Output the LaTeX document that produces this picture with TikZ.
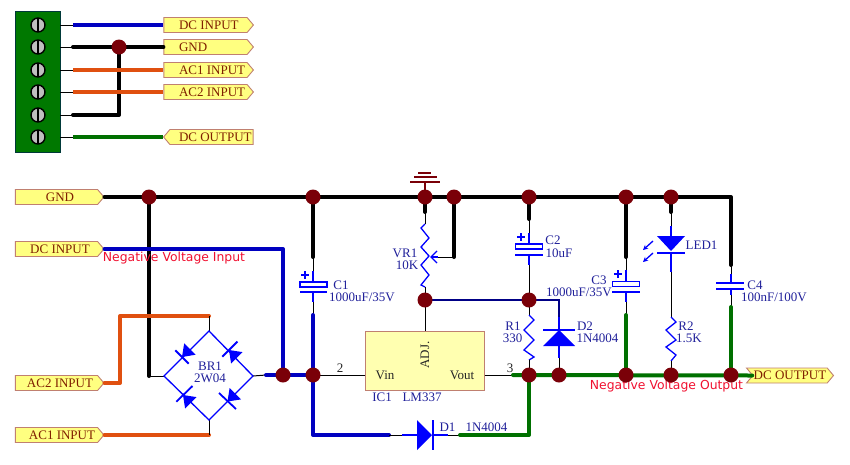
\documentclass[tikz,border=0pt]{standalone}
\usepackage{fontspec}
\setmainfont{Liberation Serif}
\newfontfamily\redfont{DejaVu Sans}
\usetikzlibrary{shapes.symbols,calc,arrows.meta}
\newcommand{\shiftedtext}[2]{\makebox[0pt]{\hspace{#1}#2}}
\definecolor{junc}{HTML}{7A0008}
\definecolor{wblue}{HTML}{0000C0}
\definecolor{cblue}{HTML}{0000FF}
\definecolor{wgreen}{HTML}{007000}
\definecolor{worange}{HTML}{E05010}
\definecolor{pfill}{HTML}{FFFF80}
\definecolor{pdraw}{HTML}{C08070}
\definecolor{ptext}{HTML}{802000}
\definecolor{ictext}{HTML}{20209A}
\definecolor{icfill}{HTML}{FFFFB0}
\definecolor{blockg}{HTML}{007800}
\definecolor{notered}{HTML}{F01030}
\tikzset{
 x=1pt,y=-1pt,
 portr/.style={signal,signal to=east,signal pointer angle=100,draw=pdraw,fill=pfill,line width=.9pt,text=ptext,inner sep=0pt,minimum height=15pt,font=\fontsize{13}{13}\selectfont},
 portl/.style={portr,signal to=west},
 portb/.style={portr,signal to=east,signal from=west},
 wthick/.style={line width=4pt,line cap=round,line join=round},
 kwire/.style={wthick,draw=black},
 bwire/.style={wthick,draw=wblue},
 gwire/.style={wthick,draw=wgreen},
 owire/.style={wthick,draw=worange},
 fine/.style={line width=1pt,draw=black},
 comp/.style={line width=1.3pt,draw=cblue},
 plate/.style={line width=1.8pt,draw=cblue},
 navy/.style={line width=1.2pt,draw=wblue!70!black},
 junction/.style={circle,fill=junc,minimum size=15pt,inner sep=0pt},
 screw/.style={circle,draw=black,line width=1.4pt,fill=black!25,minimum size=14pt,inner sep=0pt,path picture={\fill[black] ($(path picture bounding box.center)+(-1.2,-8)$) rectangle ($(path picture bounding box.center)+(1.2,8)$);}},
 desig/.style={text=ictext,inner sep=0pt,font=\fontsize{13}{13}\selectfont},
 ictxt/.style={text=black!85,inner sep=0pt,font=\fontsize{13}{13}\selectfont},
 redtxt/.style={text=notered,inner sep=0pt,font=\redfont\fontsize{12.4}{13}\selectfont},
 gndsym/.style={line width=1.2pt,draw=junc},
}
\begin{document}
\begin{tikzpicture}
\useasboundingbox (0,0) rectangle (850,464);
% ---------- terminal block
\node[draw=black!55!teal,line width=1pt,fill=blockg,minimum width=45pt,minimum height=141pt,inner sep=0pt] (block) at (37.5,81.5) {};
\foreach \n/\y in {1/25,2/47,3/70,4/92,5/115,6/137}{
 \node[screw] (s\n) at (38,\y) {};
 \coordinate (pa\n) at (60,\y);
 \coordinate (pb\n) at (73,\y);
 \draw[fine] (pa\n) -- (pb\n);
}
\node[portr,minimum width=89.5pt] (tdc) at (205.5,25) {\makebox[53pt][l]{DC INPUT}};
\node[portr,minimum width=89.5pt] (tgnd) at (205.5,47) {\makebox[53pt][l]{GND}};
\node[portr,minimum width=89.5pt] (tac1) at (205.5,70) {\makebox[53pt][l]{AC1 INPUT}};
\node[portr,minimum width=89.5pt] (tac2) at (205.5,92) {\makebox[53pt][l]{AC2 INPUT}};
\node[portl,minimum width=89.5pt] (tout) at (211.5,137) {\makebox[65pt][l]{DC OUTPUT}};
\coordinate (tj) at (119,47);
\coordinate (tc) at (119,115);
\draw[bwire,line cap=butt] (pb1) -- (tdc.west);
\draw[kwire] (pb2) -- (tj) -- (tgnd.west);
\draw[kwire] (pb5) -- (tc) -- (tj);
\draw[owire,line cap=butt] (pb3) -- (tac1.west);
\draw[owire,line cap=butt] (pb4) -- (tac2.west);
\draw[gwire,line cap=butt] (pb6) -- (tout.west);
\node[junction] (tjn) at (tj) {};
% ---------- ports of the circuit
\node[portr,minimum width=88.5pt] (gnd) at (56.5,197) {\shiftedtext{7pt}{GND}};
\node[portr,minimum width=88.5pt] (dci) at (56.5,249) {\shiftedtext{7pt}{DC INPUT}};
\node[portr,minimum width=88.5pt] (ac2) at (56.5,383) {\shiftedtext{7pt}{AC2 INPUT}};
\node[portr,minimum width=88.5pt] (ac1) at (56.5,435) {\shiftedtext{11pt}{AC1 INPUT}};
\node[portb,minimum width=87pt] (dco) at (790,375.5) {DC OUTPUT};
% ---------- coordinates
\coordinate (j1) at (149,197);
\coordinate (j2) at (313,197);
\coordinate (j3) at (425,197);
\coordinate (j4) at (454,197);
\coordinate (j5) at (529,197);
\coordinate (j6) at (626,197);
\coordinate (j7) at (671,197);
\coordinate (cr) at (731,197);
\coordinate (jv) at (425,300);
\coordinate (jc) at (529,300);
\coordinate (d2t) at (559,300);
\coordinate (ja) at (283,375);
\coordinate (jb) at (313,375);
\coordinate (jo1) at (529,375);
\coordinate (jo2) at (559,375);
\coordinate (jo3) at (626,375);
\coordinate (jo4) at (671,375);
\coordinate (jo5) at (731,375);
\coordinate (brl) at (164,376);
\coordinate (brt) at (209,331);
\coordinate (brr) at (253,376);
\coordinate (brb) at (209,420);
% ---------- main rails
\draw[kwire] (gnd.east) -- (cr) -- (731,265);
\draw[kwire] (j1) -- (149,376);
\draw[fine] (149,376) -- (brl);
\draw[bwire] (dci.east) -- (283,249) -- (ja);
\draw[owire] (ac2.east) -- (120,383) -- (120,316) -- (209,316);
\draw[fine] (209,316) -- (brt);
\draw[owire] (ac1.east) -- (209,435);
\draw[fine] (209,435) -- (brb);
\draw[fine] (brr) -- (266,375);
\draw[bwire] (266,375) -- (jb);
% ---------- bridge
\draw[comp] (brl) -- (brt) -- (brr) -- (brb) -- cycle;
\fill[cblue] (182,357) -- (195.7,354.7) -- (184.2,343.3) -- cycle;
\draw[plate] (175.3,350.3) -- (188.7,363.7);
\fill[cblue] (229,350) -- (242.5,352.1) -- (231.1,363.5) -- cycle;
\draw[plate] (222.3,356.7) -- (237.5,341.5);
\fill[cblue] (183,395) -- (196.5,397.1) -- (185.1,408.5) -- cycle;
\draw[plate] (176.3,401.7) -- (192.5,386);
\fill[cblue] (227.5,401.5) -- (241,399.4) -- (229.6,388) -- cycle;
\draw[plate] (219,393) -- (236,409);
\node[desig] (brn) at (210,366) {BR1};
\node[desig] (brv) at (210,378) {2W04};
% ---------- C1
\draw[kwire] (j2) -- (313,257);
\draw[fine] (313,257) -- (313,271);
\draw[comp] (313,271) -- (313,282);
\draw[comp] (313,292) -- (313,302);
\draw[fine] (313,302) -- (313,315);
\draw[bwire] (313,315) -- (313,435) -- (389,435);
\node[draw=cblue,line width=1.2pt,minimum width=27pt,minimum height=5pt,inner sep=0pt] (c1) at (313.5,284.5) {};
\draw[plate] (300,292) -- (327,292);
\draw[line width=1.2pt,draw=cblue] (301,275) -- (309,275) (305,271) -- (305,279);
\node[desig] (c1a) at (341,285) {C1};
\node[desig] (c1b) at (362,297) {1000uF/35V};
% ---------- ground
\draw[gndsym] (j3) -- (425,182);
\draw[gndsym] (410,182) -- (440,182) (414,177) -- (437,177) (418,173) -- (431,173);
% ---------- VR1
\draw[kwire] (j3) -- (425,212);
\draw[fine] (425,212) -- (425,224);
\draw[comp] (425,224) -- (421,228) -- (429,238) -- (421,247) -- (429,256) -- (421,265) -- (429,275) -- (421,285) -- (425,287);
\draw[fine] (425,287) -- (jv);
\draw[kwire] (j4) -- (454,257);
\draw[fine] (454,257) -- (438,257);
\draw[comp] (438,257) -- (431,257);
\draw[comp] (437,251) -- (431,257) -- (437,263);
\node[desig] (vra) at (405,253) {VR1};
\node[desig] (vrb) at (407,265) {10K};
\draw[fine] (jv) -- (425,331);
\draw[navy] (jv) -- (jc) -- (d2t) -- (559,317);
% ---------- C2
\draw[kwire] (j5) -- (529,219);
\draw[fine] (529,219) -- (529,233);
\draw[comp] (529,233) -- (529,244);
\draw[comp] (529,255) -- (529,265);
\draw[fine] (529,265) -- (jc);
\node[draw=cblue,line width=1.2pt,minimum width=27pt,minimum height=5pt,inner sep=0pt] (c2) at (529,246.5) {};
\draw[plate] (515,255) -- (543,255);
\draw[line width=1.2pt,draw=cblue] (517,237) -- (525,237) (521,233) -- (521,241);
\node[desig] (c2a) at (553,240) {C2};
\node[desig] (c2b) at (559,253) {10uF};
% ---------- R1
\draw[fine] (jc) -- (529,315);
\draw[comp] (529,315) -- (534,320) -- (524,330) -- (534,340) -- (524,350) -- (534,357) -- (529,360);
\draw[fine] (529,360) -- (jo1);
\node[desig] (r1a) at (513,326) {R1};
\node[desig] (r1b) at (512.5,338) {330};
% ---------- D2
\draw[comp] (559,317) -- (559,330);
\fill[cblue] (559,330) -- (575,346) -- (543,346) -- cycle;
\draw[plate] (543,330) -- (575,330);
\draw[comp] (559,346) -- (559,358);
\draw[fine] (559,358) -- (jo2);
\node[desig] (d2a) at (585,326) {D2};
\node[desig] (d2b) at (597.5,338) {1N4004};
% ---------- C3
\draw[kwire] (j6) -- (626,257);
\draw[fine] (626,257) -- (626,270);
\draw[comp] (626,270) -- (626,282);
\draw[comp] (626,292) -- (626,302);
\draw[fine] (626,302) -- (626,314);
\draw[gwire] (626,315) -- (jo3);
\node[draw=cblue,line width=1.2pt,minimum width=27pt,minimum height=5pt,inner sep=0pt] (c3) at (626,284) {};
\draw[plate] (612,292) -- (640,292);
\draw[line width=1.2pt,draw=cblue] (614,274) -- (622,274) (618,270) -- (618,278);
\node[desig] (c3a) at (599,280) {C3};
\node[desig] (c3b) at (579,292) {1000uF/35V};
% ---------- LED1
\draw[kwire] (j7) -- (671,212);
\draw[fine] (671,212) -- (671,226);
\draw[comp] (671,226) -- (671,236);
\fill[cblue] (657,236) -- (685,236) -- (671,251) -- cycle;
\draw[plate] (657,253) -- (685,253);
\draw[comp] (671,253) -- (671,272);
\draw[fine] (671,272) -- (671,317);
\draw[comp,-{Stealth[length=5pt,width=5pt]}] (653,241) -- (643,250);
\draw[comp,-{Stealth[length=5pt,width=5pt]}] (653,253) -- (643,262);
\node[desig] (led) at (701.5,245) {LED1};
% ---------- R2
\draw[comp] (671,317) -- (676,322) -- (666,330) -- (676,340) -- (666,347) -- (676,355) -- (671,361);
\draw[fine] (671,361) -- (jo4);
\node[desig] (r2a) at (686,326.5) {R2};
\node[desig] (r2b) at (689,338.5) {1.5K};
% ---------- C4
\draw[fine] (731,265) -- (731,274);
\draw[comp] (731,274) -- (731,283);
\draw[comp] (731,289) -- (731,295);
\draw[fine] (731,295) -- (731,306);
\draw[plate] (716,283) -- (744,283);
\draw[plate] (716,289) -- (744,289);
\draw[gwire] (731,307) -- (jo5);
\node[desig] (c4a) at (755,285) {C4};
\node[desig] (c4b) at (774,297.5) {100nF/100V};
% ---------- IC1
\node[draw=pdraw,fill=icfill,line width=1pt,minimum width=119pt,minimum height=59pt,inner sep=0pt] (ic) at (424.5,360.5) {};
\draw[fine] (jb) -- (ic.west |- jb);
\draw[fine] (ic.east |- jo1) -- (513,375);
\draw[gwire] (513,375) -- (dco.west);
\node[ictxt] (vin) at (385,375) {Vin};
\node[ictxt] (vout) at (462,375) {Vout};
\node[ictxt,rotate=90] (adj) at (425,355) {ADJ.};
\node[desig] (icn) at (382,397.5) {IC1};
\node[desig] (icv) at (422,397.5) {LM337};
\node[ictxt] (pin2) at (340,368) {2};
\node[ictxt] (pin3) at (510,368) {3};
% ---------- D1
\draw[fine] (389,435) -- (402,435);
\draw[comp] (402,435) -- (417,435);
\fill[cblue] (417,420) -- (432,435) -- (417,450) -- cycle;
\draw[plate] (433,420) -- (433,450);
\draw[comp] (433,435) -- (448,435);
\draw[fine] (448,435) -- (460,435);
\draw[gwire] (460,435) -- (529,435) -- (jo1);
\node[desig] (d1a) at (447.5,427) {D1};
\node[desig] (d1b) at (486.5,427) {1N4004};
% ---------- red notes
\node[redtxt] (nin) at (174,258) {Negative Voltage Input};
\node[redtxt] (nout) at (666.5,386.5) {Negative Voltage Output};
% ---------- junction dots
\foreach \c in {j1,j2,j3,j4,j5,j6,j7,jv,jc,ja,jb,jo1,jo2,jo3,jo4,jo5}{
 \node[junction] (n\c) at (\c) {};
}
\end{tikzpicture}
\end{document}
